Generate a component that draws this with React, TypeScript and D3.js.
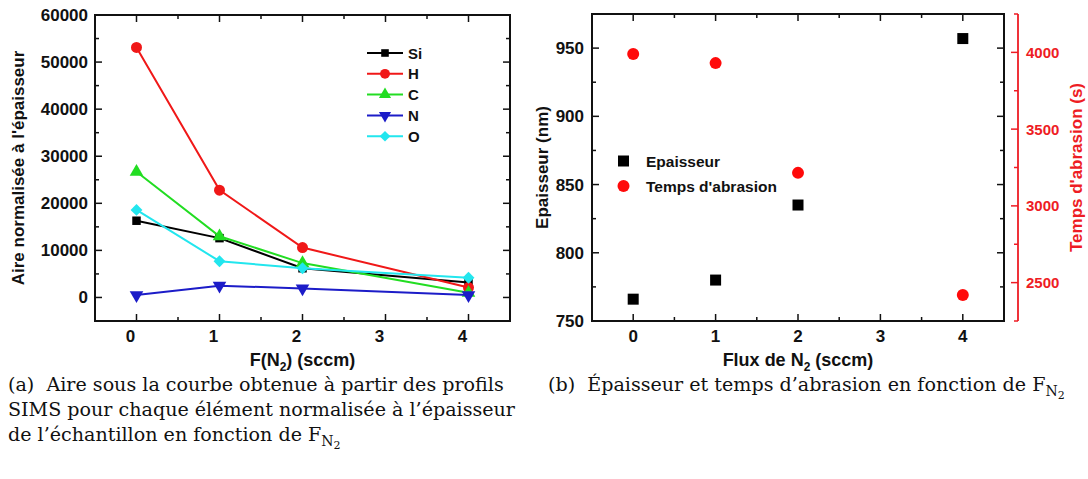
import * as d3 from 'd3';

// ---- data (a) ----
const fluxA = [0, 1, 2, 4];
const siVals = [16300, 12600, 6200, 3200];
const hVals = [53100, 22800, 10600, 2100];
const cVals = [26700, 13000, 7300, 1000];
const nVals = [500, 2500, 1900, 500];
const oVals = [18600, 7700, 6200, 4200];
const yTicksA = [0, 10000, 20000, 30000, 40000, 50000, 60000];

// ---- data (b) ----
const fluxB = [0, 1, 2, 4];
const epaisseur = [766, 780, 835, 957];
const tempsAbrasion = [3990, 3930, 3215, 2420];
const yTicksB = [750, 800, 850, 900, 950];
const yTicksB2 = [2500, 3000, 3500, 4000];
const xTicks = [0, 1, 2, 3, 4];

const RED = '#ee1c24';
const SANS = '"Liberation Sans", Arial, sans-serif';
const SERIF = '"DejaVu Serif", serif';

type Series = { name: string; vals: number[]; color: string; sym: d3.SymbolType; rot?: number; size: number };

const seriesA: Series[] = [
  { name: 'Si', vals: siVals, color: '#000000', sym: d3.symbolSquare, size: 72 },
  { name: 'H', vals: hVals, color: '#f01818', sym: d3.symbolCircle, size: 95 },
  { name: 'C', vals: cVals, color: '#22dd22', sym: d3.symbolTriangle, size: 80 },
  { name: 'N', vals: nVals, color: '#1c1cc8', sym: d3.symbolTriangle, rot: 180, size: 80 },
  { name: 'O', vals: oVals, color: '#22e6ee', sym: d3.symbolDiamond2, size: 90 },
];

function Frame({ x, y, w, h }: { x: number; y: number; w: number; h: number }) {
  return <rect x={x} y={y} width={w} height={h} fill="none" stroke="#111" strokeWidth={2} />;
}

function ChartA() {
  const L = 95, R = 510, T = 15, B = 321;
  const x = d3.scaleLinear().domain([-0.5, 4.5]).range([L, R]);
  const y = d3.scaleLinear().domain([-5000, 60000]).range([B, T]);
  const xMinor = d3.range(-0.5, 4.51, 0.5).filter((v) => !Number.isInteger(v));
  const yMinor = d3.range(-5000, 60001, 5000).filter((v) => v % 10000 !== 0);
  const line = d3.line<number>();
  return (
    <g>
      {/* ticks, mirrored, pointing inward */}
      {xTicks.map((t) => (
        <g key={'xt' + t}>
          <line x1={x(t)} x2={x(t)} y1={B} y2={B - 7} stroke="#111" strokeWidth={1.5} />
          <line x1={x(t)} x2={x(t)} y1={T} y2={T + 7} stroke="#111" strokeWidth={1.5} />
          <text x={x(t) - 6} y={342} textAnchor="middle" fontFamily={SANS} fontWeight="bold" fontSize={17} fill="#111">{t}</text>
        </g>
      ))}
      {xMinor.map((t) => (
        <g key={'xm' + t}>
          <line x1={x(t)} x2={x(t)} y1={B} y2={B - 4} stroke="#111" strokeWidth={1.5} />
          <line x1={x(t)} x2={x(t)} y1={T} y2={T + 4} stroke="#111" strokeWidth={1.5} />
        </g>
      ))}
      {yTicksA.map((t) => (
        <g key={'yt' + t}>
          <line x1={L} x2={L + 7} y1={y(t)} y2={y(t)} stroke="#111" strokeWidth={1.5} />
          <line x1={R} x2={R - 7} y1={y(t)} y2={y(t)} stroke="#111" strokeWidth={1.5} />
          <text x={L - 7} y={y(t) + 6} textAnchor="end" fontFamily={SANS} fontWeight="bold" fontSize={17} fill="#111">{t}</text>
        </g>
      ))}
      {yMinor.map((t) => (
        <g key={'ym' + t}>
          <line x1={L} x2={L + 4} y1={y(t)} y2={y(t)} stroke="#111" strokeWidth={1.5} />
          <line x1={R} x2={R - 4} y1={y(t)} y2={y(t)} stroke="#111" strokeWidth={1.5} />
        </g>
      ))}
      {seriesA.map((s) => (
        <g key={s.name}>
          <path d={line(s.vals.map((v, i) => [x(fluxA[i]), y(v)]) as any) ?? ''} fill="none" stroke={s.color} strokeWidth={2} />
          {s.vals.map((v, i) => (
            <path key={i} d={d3.symbol(s.sym, s.size)() ?? ''} transform={`translate(${x(fluxA[i])},${y(v)}) rotate(${s.rot ?? 0})`} fill={s.color} />
          ))}
        </g>
      ))}
      {/* legend */}
      {seriesA.map((s, i) => {
        const ly = 53 + i * 20.8;
        return (
          <g key={'lg' + s.name}>
            <line x1={367} x2={403} y1={ly} y2={ly} stroke={s.color} strokeWidth={2} />
            <path d={d3.symbol(s.sym, s.size * 0.8)() ?? ''} transform={`translate(385,${ly}) rotate(${s.rot ?? 0})`} fill={s.color} />
            <text x={408} y={ly + 5.5} fontFamily={SANS} fontWeight="bold" fontSize={15} fill="#111">{s.name}</text>
          </g>
        );
      })}
      <Frame x={L} y={T} w={R - L} h={B - T} />
      <text transform={`translate(24,${(T + B) / 2}) rotate(-90)`} textAnchor="middle" fontFamily={SANS} fontWeight="bold" fontSize={17} fill="#111">Aire normalisée à l'épaisseur</text>
      <text x={(L + R) / 2} y={366} textAnchor="middle" fontFamily={SANS} fontWeight="bold" fontSize={18} fill="#111">
        F(N<tspan fontSize={12} dy={5}>2</tspan><tspan dy={-5}>) (sccm)</tspan>
      </text>
    </g>
  );
}

function ChartB() {
  const L = 592, R = 1004, T = 14, B = 321;
  const x = d3.scaleLinear().domain([-0.5, 4.5]).range([L, R]);
  const y = d3.scaleLinear().domain([750, 975]).range([B, T]);
  const y2 = d3.scaleLinear().domain([2250, 4250]).range([B, T]);
  const xMinor = d3.range(-0.5, 4.51, 0.5).filter((v) => !Number.isInteger(v));
  const yMinor = d3.range(775, 976, 50);
  const y2Minor = d3.range(2250, 4251, 500);
  const AX = 1018;
  return (
    <g>
      {xTicks.map((t) => (
        <g key={'xt' + t}>
          <line x1={x(t)} x2={x(t)} y1={B} y2={B - 7} stroke="#111" strokeWidth={1.5} />
          <line x1={x(t)} x2={x(t)} y1={T} y2={T + 7} stroke="#111" strokeWidth={1.5} />
          <text x={x(t)} y={342} textAnchor="middle" fontFamily={SANS} fontWeight="bold" fontSize={17} fill="#111">{t}</text>
        </g>
      ))}
      {xMinor.map((t) => (
        <g key={'xm' + t}>
          <line x1={x(t)} x2={x(t)} y1={B} y2={B - 4} stroke="#111" strokeWidth={1.5} />
          <line x1={x(t)} x2={x(t)} y1={T} y2={T + 4} stroke="#111" strokeWidth={1.5} />
        </g>
      ))}
      {yTicksB.map((t) => (
        <g key={'yt' + t}>
          <line x1={L} x2={L + 7} y1={y(t)} y2={y(t)} stroke="#111" strokeWidth={1.5} />
          <line x1={R} x2={R - 7} y1={y(t)} y2={y(t)} stroke="#111" strokeWidth={1.5} />
          <text x={L - 8} y={y(t) + 6} textAnchor="end" fontFamily={SANS} fontWeight="bold" fontSize={17} fill="#111">{t}</text>
        </g>
      ))}
      {yMinor.map((t) => (
        <g key={'ym' + t}>
          <line x1={L} x2={L + 4} y1={y(t)} y2={y(t)} stroke="#111" strokeWidth={1.5} />
          <line x1={R} x2={R - 4} y1={y(t)} y2={y(t)} stroke="#111" strokeWidth={1.5} />
        </g>
      ))}
      {/* right red axis */}
      <line x1={AX} x2={AX} y1={T} y2={B} stroke={RED} strokeWidth={1.8} />
      {yTicksB2.map((t) => (
        <g key={'y2' + t}>
          <line x1={AX} x2={AX - 7} y1={y2(t)} y2={y2(t)} stroke={RED} strokeWidth={1.5} />
          <text x={AX + 8} y={y2(t) + 5.5} fontFamily={SANS} fontWeight="bold" fontSize={15} fill={RED}>{t}</text>
        </g>
      ))}
      {y2Minor.map((t) => (
        <line key={'y2m' + t} x1={AX} x2={AX - 4} y1={y2(t)} y2={y2(t)} stroke={RED} strokeWidth={1.5} />
      ))}
      {epaisseur.map((v, i) => (
        <rect key={'e' + i} x={x(fluxB[i]) - 5.5} y={y(v) - 5.5} width={11} height={11} fill="#000" />
      ))}
      {tempsAbrasion.map((v, i) => (
        <circle key={'t' + i} cx={x(fluxB[i])} cy={y2(v)} r={6} fill="#ff0a0a" />
      ))}
      {/* legend */}
      <rect x={618} y={155.5} width={11} height={11} fill="#000" />
      <text x={646} y={166.5} fontFamily={SANS} fontWeight="bold" fontSize={15.5} fill="#111">Epaisseur</text>
      <circle cx={623.5} cy={186} r={6} fill="#ff0a0a" />
      <text x={646} y={191.5} fontFamily={SANS} fontWeight="bold" fontSize={15.5} fill="#111">Temps d'abrasion</text>
      <Frame x={L} y={T} w={R - L} h={B - T} />
      <text transform={`translate(548,${(T + B) / 2}) rotate(-90)`} textAnchor="middle" fontFamily={SANS} fontWeight="bold" fontSize={17} fill="#111">Epaisseur (nm)</text>
      <text transform={`translate(1082,${(T + B) / 2}) rotate(-90)`} textAnchor="middle" fontFamily={SANS} fontWeight="bold" fontSize={17} fill={RED}>Temps d'abrasion (s)</text>
      <text x={(L + R) / 2} y={366} textAnchor="middle" fontFamily={SANS} fontWeight="bold" fontSize={18} fill="#111">
        Flux de N<tspan fontSize={12} dy={5}>2</tspan><tspan dy={-5}> (sccm)</tspan>
      </text>
    </g>
  );
}

function FN2() {
  return (
    <>
      F<tspan fontSize={14} dy={5}>N</tspan><tspan fontSize={11} dy={3}>2</tspan>
    </>
  );
}

export default function App() {
  return (
    <svg width={1088} height={479} style={{ position: 'fixed', left: 0, top: 0, background: '#fff' }}>
      <rect width={1088} height={479} fill="#fff" />
      <ChartA />
      <ChartB />
      <g fontFamily={SERIF} fontSize={19.1} fill="#111">
        <text x={8} y={391}>(a){'\u00a0\u00a0'}Aire sous la courbe obtenue à partir des profils</text>
        <text x={8} y={416}>SIMS pour chaque élément normalisée à l’épaisseur</text>
        <text x={8} y={441}>de l’échantillon en fonction de <FN2 /></text>
        <text x={548} y={391}>(b){'\u00a0\u00a0'}Épaisseur et temps d’abrasion en fonction de <FN2 /></text>
      </g>
    </svg>
  );
}
